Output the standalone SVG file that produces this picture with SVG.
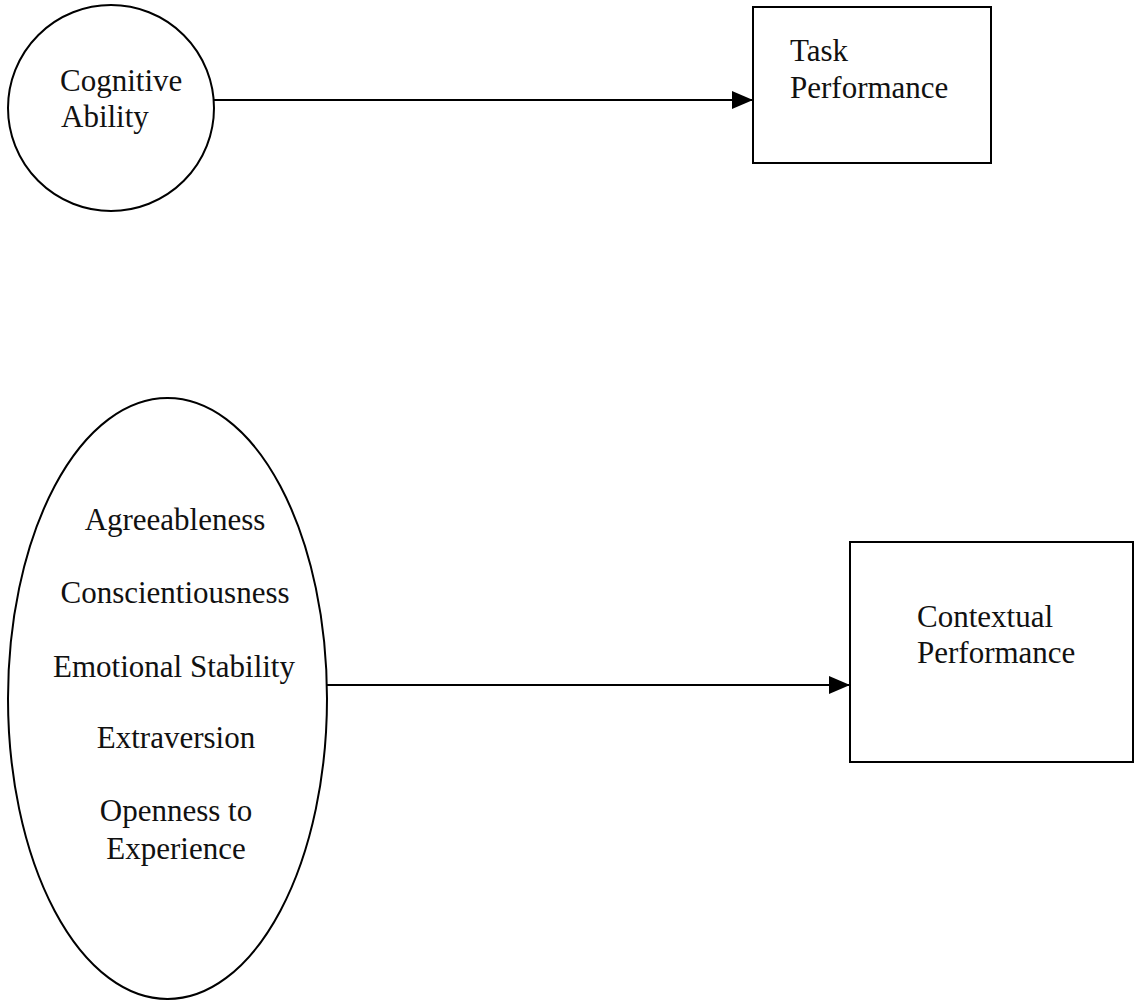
<svg xmlns="http://www.w3.org/2000/svg" width="1138" height="1000" viewBox="0 0 1138 1000">
<style>
.shape{fill:#fff;stroke:#000;stroke-width:2}
.t{font-family:"Liberation Serif","Times New Roman",serif;font-size:31px;fill:#111}
.c{text-anchor:middle}
.conn{stroke:#000;stroke-width:2;fill:none}
</style>
<defs>
<marker id="arr" markerUnits="userSpaceOnUse" markerWidth="22" markerHeight="20" refX="21" refY="9" orient="auto">
<path d="M0,0 L21,9 L0,18 Z" fill="#000"/>
</marker>
</defs>
<rect width="1138" height="1000" fill="#fff"/>
<g id="cognitive-ability">
<circle class="shape" cx="111" cy="108" r="103"/>
<text class="t" x="60" y="91">Cognitive</text>
<text class="t" x="61" y="127">Ability</text>
</g>
<g id="task-performance">
<rect class="shape" x="753" y="7" width="238" height="156"/>
<text class="t" x="790" y="61">Task</text>
<text class="t" x="790" y="98">Performance</text>
</g>
<g id="personality">
<ellipse class="shape" cx="167.5" cy="698.5" rx="159.5" ry="300.5"/>
<text class="t c" x="175" y="530">Agreeableness</text>
<text class="t c" x="175" y="603">Conscientiousness</text>
<text class="t c" x="174" y="677">Emotional Stability</text>
<text class="t c" x="176" y="748">Extraversion</text>
<text class="t c" x="176" y="821">Openness to</text>
<text class="t c" x="176" y="859">Experience</text>
</g>
<g id="contextual-performance">
<rect class="shape" x="850" y="542" width="283" height="220"/>
<text class="t" x="917" y="627">Contextual</text>
<text class="t" x="917" y="663">Performance</text>
</g>
<g id="connectors">
<line class="conn" x1="214" y1="100" x2="753" y2="100" marker-end="url(#arr)"/>
<line class="conn" x1="327" y1="685" x2="850" y2="685" marker-end="url(#arr)"/>
</g>
</svg>
